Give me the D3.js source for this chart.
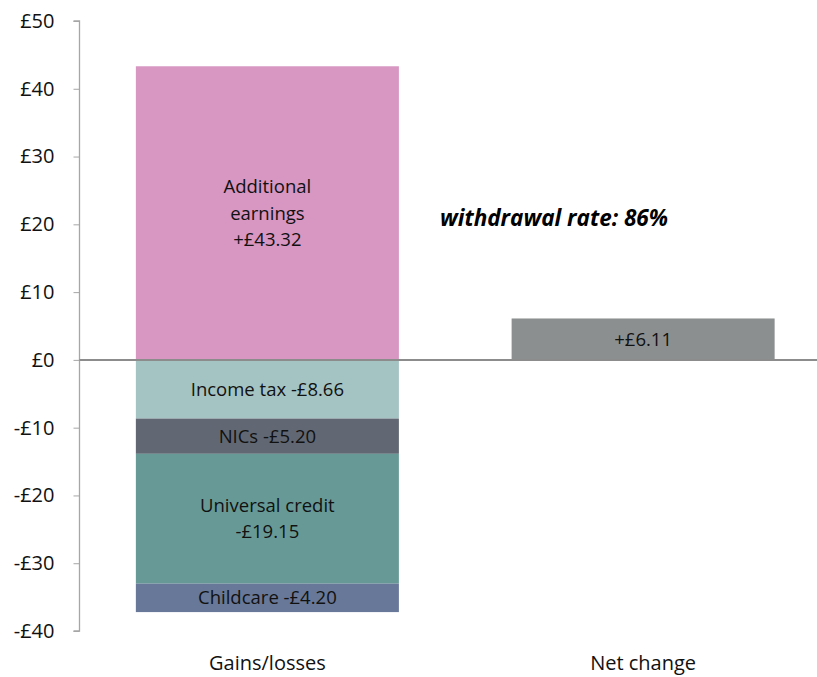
<!DOCTYPE html>
<html><head><meta charset="utf-8">
<script src="https://cdn.jsdelivr.net/npm/d3@7"></script>
<style>body{margin:0;background:#fff}svg{display:block;font-family:"Open Sans",sans-serif}</style>
</head><body>
<svg id="c" width="817" height="677"></svg>
<script>
const categories = ["Gains/losses", "Net change"];
const components = ["Additional earnings", "Income tax", "NICs", "Universal credit", "Childcare"];
const componentValues = [43.32, -8.66, -5.20, -19.15, -4.20];
const componentLabels = [["Additional", "earnings", "+£43.32"], ["Income tax -£8.66"], ["NICs -£5.20"], ["Universal credit", "-£19.15"], ["Childcare -£4.20"]];
const componentColors = ["#d896c2", "#a4c3c3", "#616873", "#679a97", "#687898"];
const netValue = [6.11];
const netLabel = ["+£6.11"];
const yTicks = [-40, -30, -20, -10, 0, 10, 20, 30, 40, 50];
const annotation = "withdrawal rate: 86%";

const FONT = "'Open Sans',sans-serif";
const svg = d3.select("#c");
const y = d3.scaleLinear().domain([-40, 50]).range([631, 21]);
const x = d3.scaleBand().domain(categories).range([79.5, 831]).paddingInner(0.3).paddingOuter(0.15);

let pos = 0, neg = 0;
const stack = componentValues.map((v, i) => {
  let y0, y1;
  if (v >= 0) { y0 = pos; y1 = pos + v; pos = y1; } else { y0 = neg; y1 = neg + v; neg = y1; }
  return {v, y0, y1, label: componentLabels[i], color: componentColors[i]};
});

const g = svg.append("g");
g.selectAll("rect.s").data(stack).join("rect")
  .attr("x", x(categories[0])).attr("width", x.bandwidth())
  .attr("y", d => y(Math.max(d.y0, d.y1))).attr("height", d => Math.abs(y(d.y0) - y(d.y1)))
  .attr("fill", d => d.color);

g.selectAll("rect.n").data(netValue).join("rect")
  .attr("x", x(categories[1])).attr("width", x.bandwidth())
  .attr("y", d => y(d)).attr("height", d => y(0) - y(d)).attr("fill", "#8c8f90");

const lh = 26.5;
stack.forEach(d => {
  const cy = y((d.y0 + d.y1) / 2);
  const n = d.label.length;
  const t = g.append("text").attr("text-anchor", "middle").attr("font-size", 18.5).attr("fill", "#111");
  d.label.forEach((line, i) => {
    t.append("tspan").attr("x", x(categories[0]) + x.bandwidth() / 2)
      .attr("y", cy + (i - (n - 1) / 2) * lh).attr("dy", "0.35em").text(line);
  });
});
g.selectAll("text.n").data(netValue).join("text")
  .attr("x", x(categories[1]) + x.bandwidth() / 2).attr("y", d => y(d / 2)).attr("dy", "0.35em")
  .attr("text-anchor", "middle").attr("font-size", 18.5).attr("fill", "#111").text((d, i) => netLabel[i]);

const ya = svg.append("g").attr("transform", "translate(79.5,0)")
  .call(d3.axisLeft(y).tickValues(yTicks).tickSize(6).tickPadding(19)
    .tickFormat(d => (d < 0 ? "-£" : "£") + Math.abs(d)));
ya.select(".domain").attr("stroke", "#a6a6a6").attr("stroke-width", 1.3).attr("d", `M-6,${y(50)}H0V${y(-40)}H-6`);
ya.selectAll(".tick line").attr("stroke", "#a6a6a6");
ya.selectAll(".tick text").attr("font-size", 20).attr("fill", "#111").attr("font-family", FONT);

svg.append("line").attr("x1", 79.5).attr("x2", 817).attr("y1", y(0)).attr("y2", y(0))
  .attr("stroke", "#8c8c8c").attr("stroke-width", 2);

svg.selectAll("text.cat").data(categories).join("text")
  .attr("x", d => x(d) + x.bandwidth() / 2).attr("y", 670).attr("text-anchor", "middle")
  .attr("font-size", 20).attr("fill", "#111").text(d => d);

svg.append("text").attr("x", 554).attr("y", 226).attr("text-anchor", "middle")
  .attr("font-size", 22.5).attr("font-weight", "bold").attr("font-style", "italic").attr("fill", "#000")
  .text(annotation);
</script>
</body></html>
